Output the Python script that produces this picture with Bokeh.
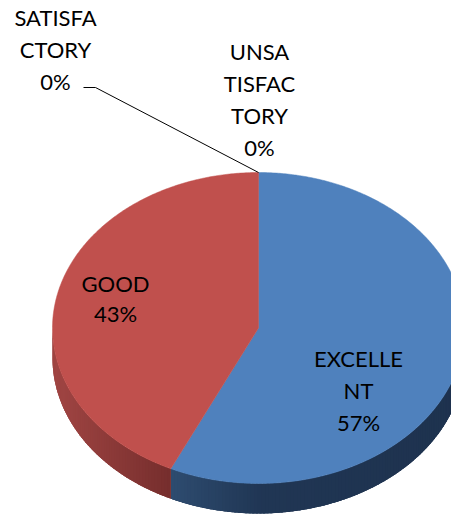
import numpy as np
from bokeh.plotting import figure
from bokeh.models import Range1d
from bokeh.core.properties import value
from bokeh.embed import file_html
from bokeh.resources import INLINE

# ---- data ----
categories = ["EXCELLENT", "GOOD", "SATISFACTORY", "UNSATISFACTORY"]
values = [57, 43, 0, 0]
label_lines = [["EXCELLE", "NT"], ["GOOD"], ["SATISFA", "CTORY"], ["UNSA", "TISFAC", "TORY"]]
top_colors = ["#4F81BD", "#C0504D", "#9BBB59", "#8064A2"]

# ---- styling / layout (image pixel coordinates, y downward) ----
W, H = 451, 515
OFF = 0
cx, cy, rx, ry, depth = 258.0, 327.5, 206.0, 155.5, 30.0
label_x = [358, 115, 55, 259]
label_y0 = [358, 283, 17, 50.5]
label_dy = [32, 30, 32, 32]
side_stops = {
    "EXCELLENT": [(168, (46, 76, 112)), (260, (32, 54, 84)), (470, (30, 50, 78))],
    "GOOD": [(50, (162, 70, 68)), (168, (118, 46, 45))],
}

p = figure(width=W, height=H, output_backend="svg", toolbar_location=None,
           x_range=Range1d(OFF, OFF + W), y_range=Range1d(OFF + H, OFF),
           x_axis_type=None, y_axis_type=None, min_border=0)
p.grid.visible = False
p.outline_line_color = None
p.background_fill_color = "white"


def pt(theta_deg, dz=0.0):
    t = np.radians(theta_deg)
    return cx + rx * np.sin(t), cy - ry * np.cos(t) + dz


def interp_color(stops, x):
    xs = [s[0] for s in stops]
    cols = np.array([s[1] for s in stops], dtype=float)
    c = [np.interp(x, xs, cols[:, k]) for k in range(3)]
    return "#%02x%02x%02x" % tuple(int(round(v)) for v in c)


total = float(sum(values))
angles = [0.0]
for v in values:
    angles.append(angles[-1] + 360.0 * v / total)

# sides (front half: 90..270 degrees)
for i, cat in enumerate(categories):
    a0, a1 = angles[i], angles[i + 1]
    s0, s1 = max(a0, 90.0), min(a1, 270.0)
    if s1 <= s0 or cat not in side_stops:
        continue
    # solid underlay (prevents seams)
    th = np.linspace(s0, s1, 200)
    xa, ya = pt(th)
    mid = interp_color(side_stops[cat], float(np.mean(xa)))
    p.patch(np.concatenate([xa, xa[::-1]]), np.concatenate([ya, (ya + depth)[::-1]]),
            fill_color=mid, line_color=None)
    n = max(2, int((s1 - s0) * 1.0))
    th = np.linspace(s0, s1, n + 1)
    xs_list, ys_list, cols = [], [], []
    for k in range(n):
        t0 = th[k]
        t1 = min(th[k + 1] + 0.6, s1)
        x0_, y0_ = pt(t0)
        x1_, y1_ = pt(t1)
        xs_list.append([x0_, x1_, x1_, x0_])
        ys_list.append([y0_, y1_, y1_ + depth, y0_ + depth])
        cols.append(interp_color(side_stops[cat], 0.5 * (x0_ + x1_)))
    p.patches(xs_list, ys_list, fill_color=cols, line_color=None)

# top faces
for i, cat in enumerate(categories):
    a0, a1 = angles[i], angles[i + 1]
    if a1 - a0 <= 0:
        continue
    th = np.linspace(a0, a1, max(3, int(a1 - a0) * 2))
    xx, yy = pt(th)
    xs = np.concatenate([[cx], xx, [cx]])
    ys = np.concatenate([[cy], yy, [cy]])
    p.patch(xs, ys, fill_color=top_colors[i], line_color=top_colors[i], line_width=0.5)

# leader line for SATISFACTORY label
tx, ty = pt(angles[2])
p.line([83, 95, tx], [87, 87, ty], line_color="black", line_width=1)

# labels
tx_all, ty_all, txt = [], [], []
for i, cat in enumerate(categories):
    lines = label_lines[i] + ["%d%%" % round(100 * values[i] / total)]
    for j, s in enumerate(lines):
        tx_all.append(label_x[i])
        ty_all.append(label_y0[i] + j * label_dy[i])
        txt.append(s)
p.text(tx_all, ty_all, text=txt, text_align="center", text_baseline="middle",
       text_font=value("Lato"), text_font_size="22px", text_color="black")

open("out.html", "w").write(file_html(p, INLINE))
